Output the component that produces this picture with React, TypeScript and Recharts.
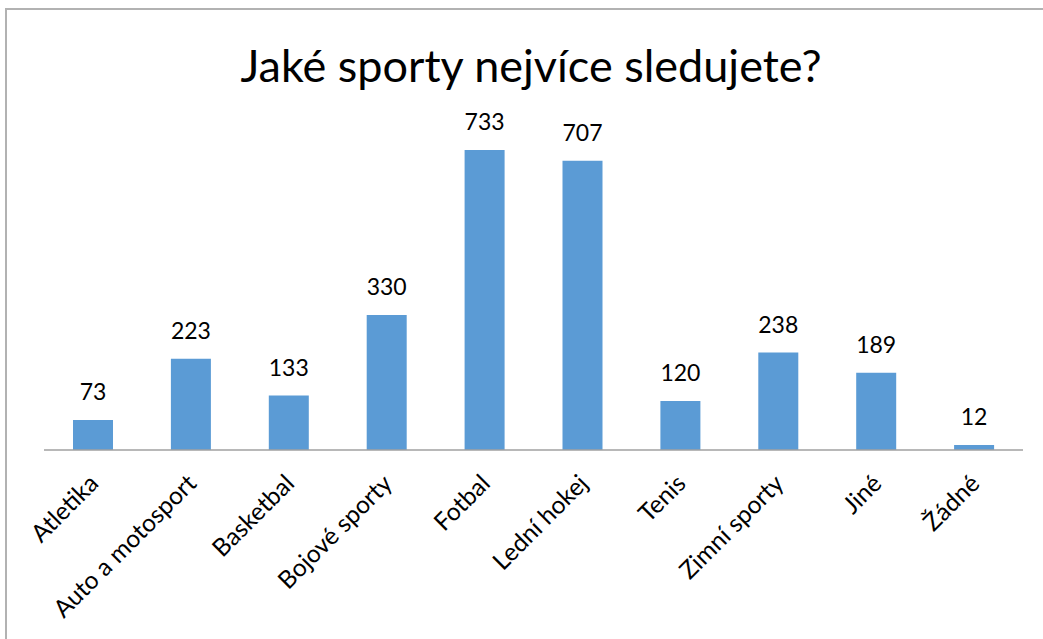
import { Bar, BarChart, LabelList, XAxis, YAxis } from 'recharts'

const categories = ['Atletika', 'Auto a motosport', 'Basketbal', 'Bojové sporty', 'Fotbal', 'Lední hokej', 'Tenis', 'Zimní sporty', 'Jiné', 'Žádné']
const viewers = [73, 223, 133, 330, 733, 707, 120, 238, 189, 12]

const FONT = 'Lato, "Open Sans", sans-serif'
const BAR_COLOR = '#5B9BD5'

const data = categories.map((name, i) => ({ name, value: viewers[i] }))

function RotatedTick(props: any) {
  const { x, y, payload } = props
  return (
    <g transform={`translate(${x + 7},${y + 27})`}>
      <text transform="rotate(-45)" textAnchor="end" fontFamily={FONT} fontSize={24.5} fill="#000">
        {payload.value}
      </text>
    </g>
  )
}

export default function App() {
  return (
    <div style={{ position: 'absolute', left: 0, top: 0, width: 1043, height: 639, overflow: 'hidden', background: '#fff' }}>
      <div
        style={{
          position: 'absolute',
          left: 5,
          top: 8,
          width: 1100,
          height: 700,
          borderLeft: '2px solid #b2b2b2',
          borderTop: '2px solid #b2b2b2',
        }}
      />
      <div
        style={{
          position: 'absolute',
          left: 0,
          width: 1062,
          top: 40,
          textAlign: 'center',
          fontFamily: FONT,
          fontSize: 45,
          lineHeight: '50px',
          color: '#000',
        }}
      >
        Jaké sporty nejvíce sledujete?
      </div>
      <div style={{ position: 'absolute', left: 0, top: 0 }}>
        <BarChart width={1043} height={639} data={data} margin={{ top: 122.6, right: 20, bottom: 39, left: 44 }}>
          <YAxis hide domain={[0, 800]} />
          <XAxis
            dataKey="name"
            height={150}
            interval={0}
            tickLine={false}
            axisLine={{ stroke: '#a0a0a0', strokeWidth: 1.5 }}
            tick={<RotatedTick />}
          />
          <Bar dataKey="value" fill={BAR_COLOR} barSize={40} isAnimationActive={false}>
            <LabelList dataKey="value" position="top" offset={20} fontFamily={FONT} fontSize={23} fill="#000" />
          </Bar>
        </BarChart>
      </div>
    </div>
  )
}
